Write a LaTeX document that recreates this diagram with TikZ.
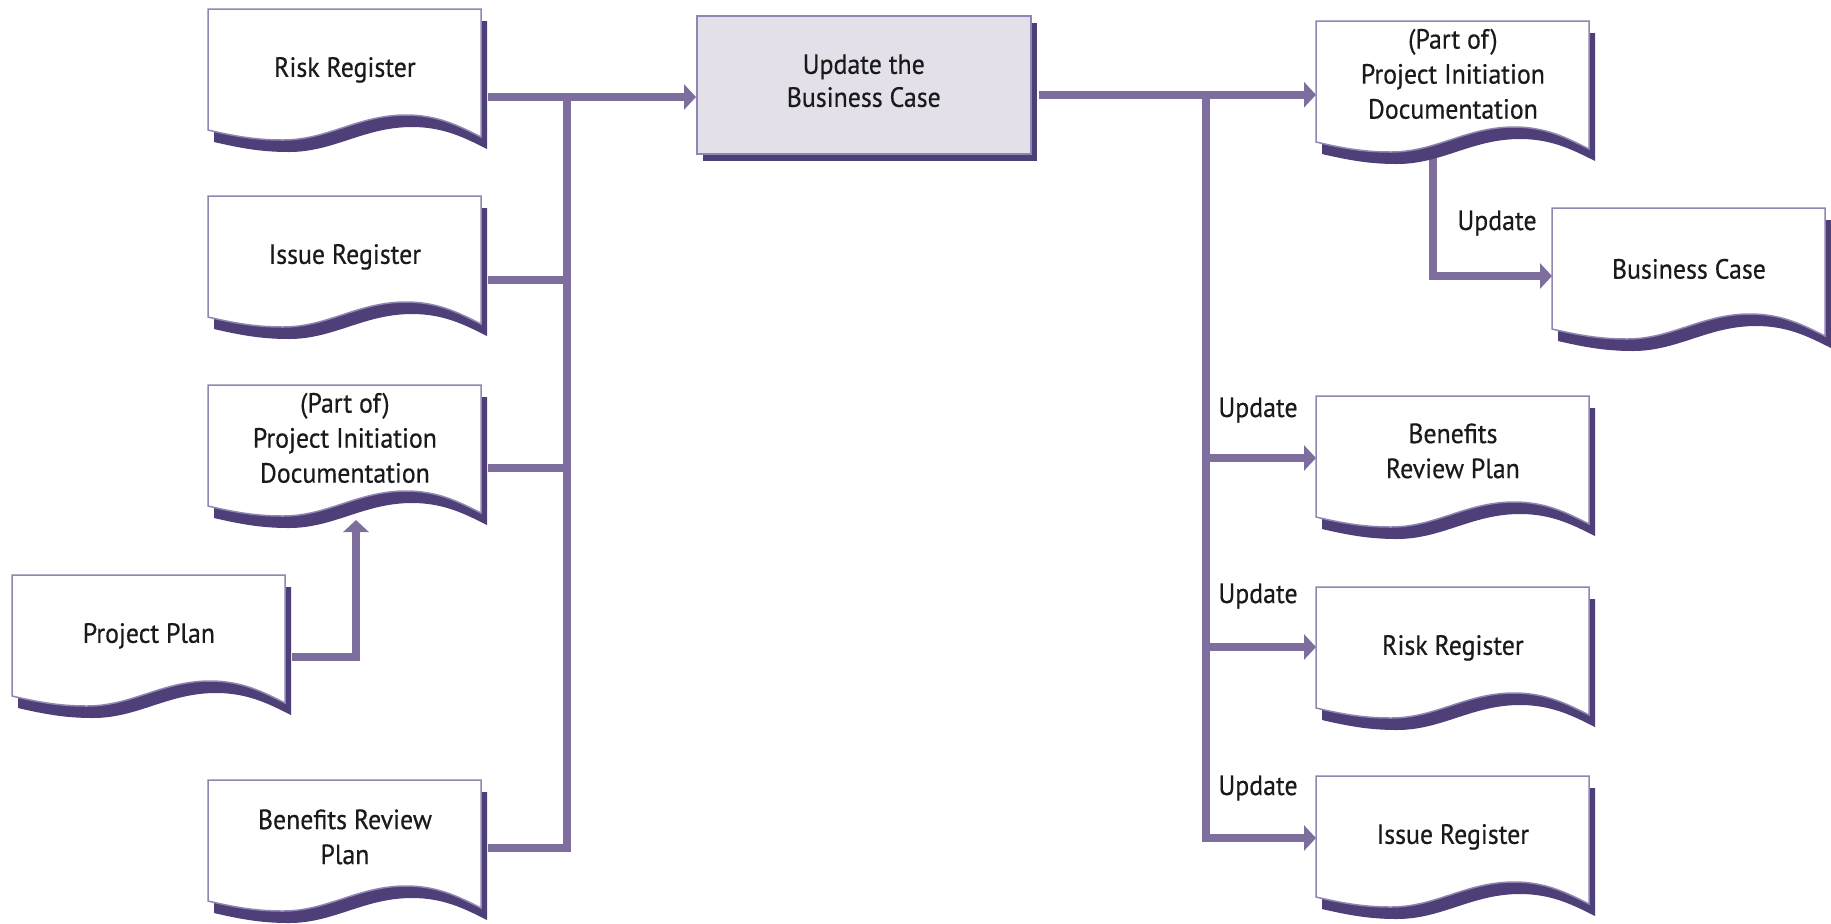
\documentclass[tikz,border=0pt]{standalone}
\usepackage{fontspec}
\setmainfont[FakeStretch=0.93, FakeBold=0.5]{PT Sans}
\usetikzlibrary{arrows.meta,calc}
\definecolor{shadowcol}{HTML}{4E3F78}
\definecolor{edgecol}{HTML}{9086B2}
\definecolor{linecol}{HTML}{7D6E9E}
\definecolor{boxfill}{HTML}{E4E0EA}
\definecolor{txtcol}{HTML}{1A1A1A}
\pgfdeclarelayer{back}
\pgfsetlayers{back,main}

% document symbol: white sheet with a wavy lower edge and a dark drop shadow
% [#1] upward text offset, #2 name, #3 x, #4 y, #5 text
\newcommand{\docitem}[5][0]{%
  \fill[shadowcol, shift={(#3+6,#4+12)}]
    (0,0) -- (273,0) -- (273,128)
    .. controls (251,117) and (230,106) .. (198,106)
    .. controls (150,106) and (120,131) .. (75,131)
    .. controls (50,131) and (30,128) .. (0,121) -- cycle;
  \filldraw[fill=white, draw=edgecol, line width=0.75pt, shift={(#3,#4)}]
    (0,0) -- (273,0) -- (273,128)
    .. controls (251,117) and (230,106) .. (198,106)
    .. controls (150,106) and (120,131) .. (75,131)
    .. controls (50,131) and (30,128) .. (0,121) -- cycle;
  \node[docnode, anchor=north west] (#2) at (#3,#4-#1) {#5};
}

\begin{document}
\begin{tikzpicture}[x=0.5pt, y=-0.5pt,
  docnode/.style={rectangle, inner sep=0pt, minimum width=136.5pt,
    minimum height=60.5pt, align=center, text=txtcol,
    font=\fontsize{13.9}{17.5}\selectfont},
  procbox/.style={rectangle, inner sep=0pt, minimum width=167pt,
    minimum height=69pt, align=center, text=txtcol, fill=boxfill,
    draw=edgecol, line width=0.75pt, font=\fontsize{13.9}{16.5}\selectfont},
  lbl/.style={inner sep=0pt, text=txtcol, font=\fontsize{13.9}{16.5}\selectfont},
  conn/.style={draw=linecol, line width=4pt},
  arr/.style={-{Triangle[length=6pt,width=12.5pt]}}]

\useasboundingbox (0,0) rectangle (1831,923);

% inputs on the left
\docitem{lrr}{208}{9}{Risk Register}
\docitem{lir}{208}{196}{Issue Register}
\docitem[8]{lpid}{208}{385}{(Part of)\\Project Initiation\\Documentation}
\docitem{pp}{12}{575}{Project Plan}
\docitem[4]{lbrp}{208}{780}{Benefits Review\\Plan}

% the activity
\fill[shadowcol] (703,23) rectangle (1037,161);
\node[procbox, anchor=north west] (upd) at (696,15) {};
\node[lbl, align=center, font=\fontsize{13.9}{16.5}\selectfont] (updtxt)
  at ($(upd.center)+(0,-4)$) {Update the\\Business Case};

% outputs on the right
\docitem[8]{rpid}{1316}{21}{(Part of)\\Project Initiation\\Documentation}
\docitem{bc}{1552}{208}{Business Case}
\docitem[6]{rbrp}{1316}{396}{Benefits\\Review Plan}
\docitem{rrr}{1316}{587}{Risk Register}
\docitem{rir}{1316}{776}{Issue Register}

% update labels
\node[lbl, anchor=base west] (u1) at (1457,230) {Update};
\node[lbl, anchor=base west] (u2) at (1218,417) {Update};
\node[lbl, anchor=base west] (u3) at (1218,603) {Update};
\node[lbl, anchor=base west] (u4) at (1218,795) {Update};

\begin{pgfonlayer}{back}
  % inputs gathered on a vertical bus
  \coordinate (lrrout) at ($(lrr.north east)+(6,88)$);
  \coordinate (lbus) at ($(lrrout)+(79,0)$);
  \draw[conn, arr] (lrrout) -- (lrrout -| upd.west);
  \draw[conn] (lbus) |- ($(lbrp.north east)+(6,72)$);
  \coordinate (lirout) at ($(lir.north east)+(6,84)$);
  \draw[conn] (lirout) -- (lirout -| lbus);
  \coordinate (lpidout) at ($(lpid.north east)+(6,91)$);
  \draw[conn] (lpidout) -- (lpidout -| lbus);
  \draw[conn, arr] ($(pp.north east)+(6,82)$) -| ($(lpid.north west)+(148,143)$);

  % outputs fanned out from a second bus
  \coordinate (updout) at ($(upd.east)+(7,10)$);
  \coordinate (rbus) at ($(updout)+(167,0)$);
  \draw[conn, arr] (updout) -- (updout -| rpid.west);
  \coordinate (ririn) at ($(rir.north west)+(0,62)$);
  \draw[conn, arr] (rbus) |- (ririn);
  \coordinate (rbrpin) at ($(rbrp.north west)+(0,68)$);
  \draw[conn, arr] (rbrpin -| rbus) -- (rbrpin);
  \coordinate (rrrin) at ($(rrr.north west)+(0,60)$);
  \draw[conn, arr] (rrrin -| rbus) -- (rrrin);
  \draw[conn, arr] ($(rpid.north west)+(117,140)$) |- ($(bc.north west)+(0,68)$);
\end{pgfonlayer}
\end{tikzpicture}
\end{document}
